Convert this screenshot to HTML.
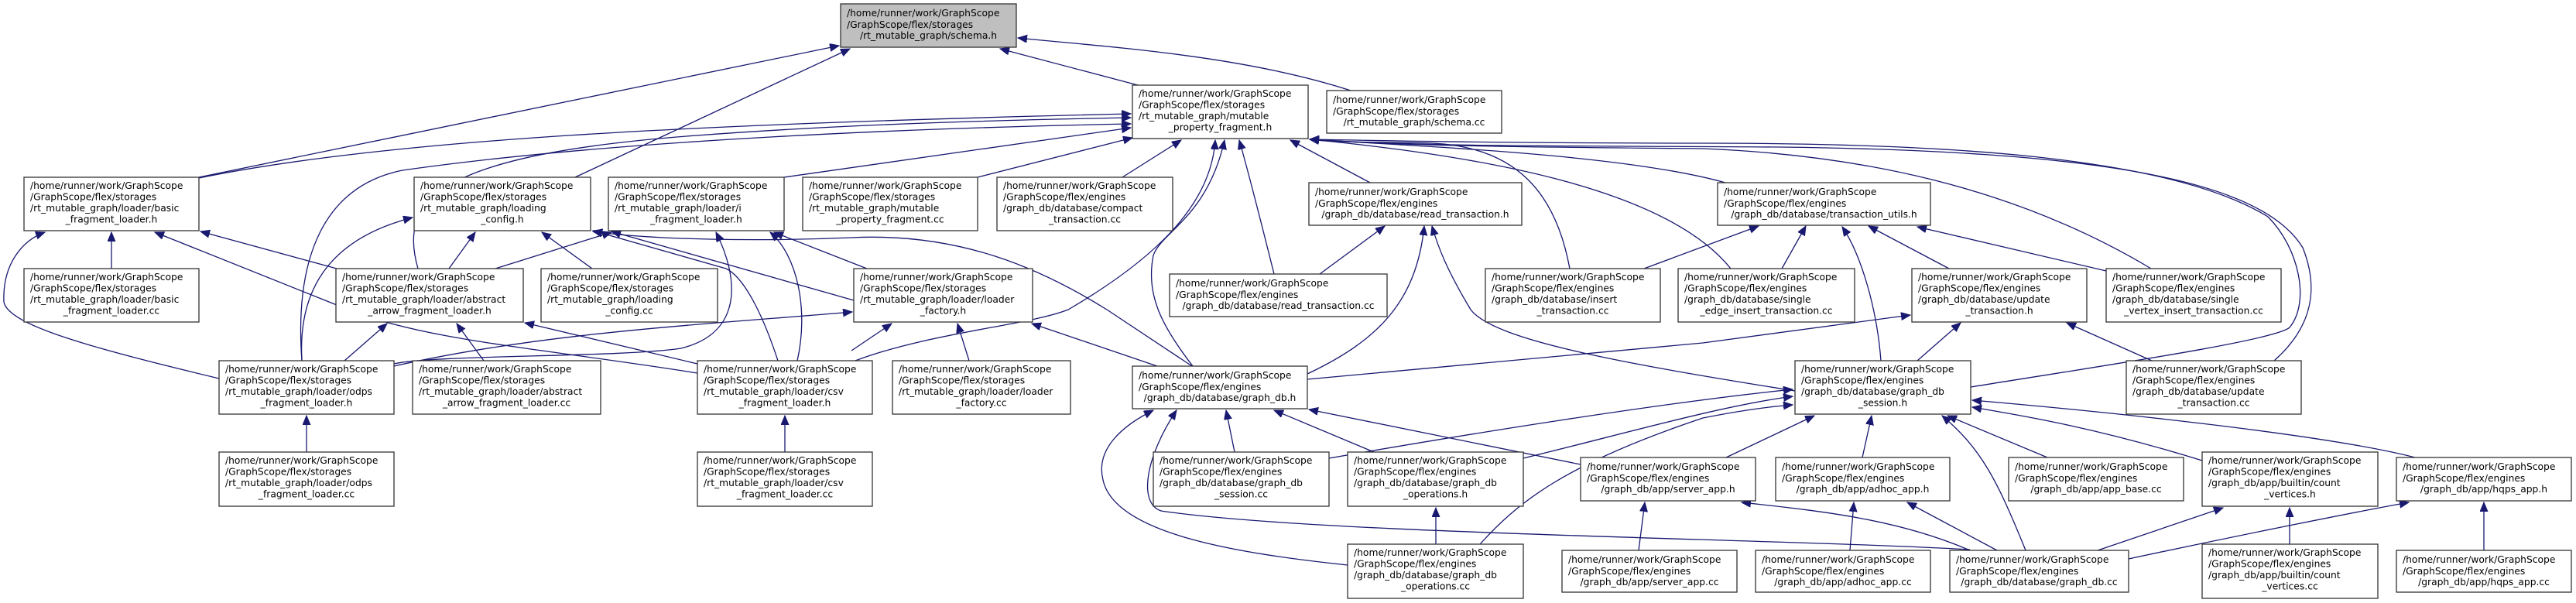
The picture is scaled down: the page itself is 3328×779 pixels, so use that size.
<!DOCTYPE html>
<html><head><meta charset="utf-8"><style>
html,body{margin:0;padding:0;background:#fff;}
svg{display:block;}
text{font-family:"DejaVu Sans","Liberation Sans",sans-serif;font-size:12.3px;fill:#000;}
.b{fill:#fff;stroke:#333;stroke-width:1.3;}
.e{fill:none;stroke:#191970;stroke-width:1.3;}
</style></head><body>
<svg width="3328" height="779" viewBox="0 0 3328 779" xmlns="http://www.w3.org/2000/svg">
<defs><marker id="a" markerUnits="userSpaceOnUse" markerWidth="14" markerHeight="12" refX="12" refY="5" orient="auto"><path d="M0,0 L12,5 L0,10 z" fill="#191970" stroke="#191970"/></marker></defs>
<g class="edges">
<!-- schema.h -->
<path class="e" marker-end="url(#a)" d="M257,229 L1084,59"/>
<path class="e" marker-end="url(#a)" d="M743,229 L1098,63"/>
<path class="e" marker-end="url(#a)" d="M1470,110 L1292,63"/>
<path class="e" marker-end="url(#a)" d="M1745,117 C1600,70 1420,60 1315,49"/>
<!-- MPF -->
<path class="e" marker-end="url(#a)" d="M257,230 C500,180 900,160 1461,147"/>
<path class="e" marker-end="url(#a)" d="M540,347 C515,260 560,200 900,175 C1100,160 1300,155 1461,152"/>
<path class="e" marker-end="url(#a)" d="M390,466 C380,330 420,240 520,220 C800,180 1200,165 1461,160"/>
<path class="e" marker-end="url(#a)" d="M1013,229 L1461,165"/>
<path class="e" marker-end="url(#a)" d="M1263,229 L1463,178"/>
<path class="e" marker-end="url(#a)" d="M1450,229 L1526,181"/>
<path class="e" marker-end="url(#a)" d="M1105,466 C1200,430 1330,420 1380,400 C1500,330 1565,260 1570,181"/>
<path class="e" marker-end="url(#a)" d="M1541,473 C1500,420 1480,380 1490,330 C1500,300 1560,280 1582,181"/>
<path class="e" marker-end="url(#a)" d="M1646,354 C1630,290 1615,230 1601,181"/>
<path class="e" marker-end="url(#a)" d="M1770,236 L1667,181"/>
<path class="e" marker-end="url(#a)" d="M2028,347 C2010,250 1960,190 1850,185 C1780,183 1730,185 1692,180"/>
<path class="e" marker-end="url(#a)" d="M2236,347 C2150,240 1900,200 1692,180"/>
<path class="e" marker-end="url(#a)" d="M2229,236 C2100,200 1850,190 1692,180"/>
<path class="e" marker-end="url(#a)" d="M2779,347 C2600,240 2400,200 2200,192 C1950,190 1800,188 1692,180"/>
<path class="e" marker-end="url(#a)" d="M2938,466 C2990,420 2995,370 2975,320 C2920,230 2700,195 2300,190 C2000,188 1850,190 1692,180"/>
<path class="e" marker-end="url(#a)" d="M2546,500 C2700,475 2940,440 2958,423 C2985,390 2970,320 2930,280 C2800,200 2500,185 2200,185 C1950,185 1800,182 1692,180"/>
<!-- TU -->
<path class="e" marker-end="url(#a)" d="M2124,347 L2272,292"/>
<path class="e" marker-end="url(#a)" d="M2302,347 L2333,292"/>
<path class="e" marker-end="url(#a)" d="M2430,466 C2425,400 2405,330 2380,293"/>
<path class="e" marker-end="url(#a)" d="M2518,347 L2414,292"/>
<path class="e" marker-end="url(#a)" d="M2721,350 L2477,293"/>
<!-- UTH -->
<path class="e" marker-end="url(#a)" d="M2477,466 L2533,417"/>
<path class="e" marker-end="url(#a)" d="M2780,466 L2670,417"/>
<path class="e" marker-end="url(#a)" d="M1689,490 L2200,443 L2468,407"/>
<!-- RTH -->
<path class="e" marker-end="url(#a)" d="M1705,354 L1789,292"/>
<path class="e" marker-end="url(#a)" d="M1689,483 C1780,440 1830,390 1840,292"/>
<path class="e" marker-end="url(#a)" d="M2319,505 C2100,470 1930,440 1900,400 C1870,350 1858,320 1850,292"/>
<!-- GDB -->
<path class="e" marker-end="url(#a)" d="M1595,584 L1584,530"/>
<path class="e" marker-end="url(#a)" d="M1775,584 L1646,530"/>
<path class="e" marker-end="url(#a)" d="M2042,600 L1691,529"/>
<path class="e" marker-end="url(#a)" d="M1741,730 C1600,715 1440,690 1425,620 C1415,580 1450,550 1490,530"/>
<path class="e" marker-end="url(#a)" d="M2545,710 C2300,696 1700,690 1500,660 C1470,650 1480,590 1520,530"/>
<path class="e" marker-end="url(#a)" d="M1495,473 L1333,418"/>
<path class="e" marker-end="url(#a)" d="M1540,473 L1430,400 C1345,347 1240,300 1100,307 C982,312 842,310 766,299"/>
<!-- GSH -->
<path class="e" marker-end="url(#a)" d="M1717,592 C1900,560 2150,520 2316,503"/>
<path class="e" marker-end="url(#a)" d="M1968,592 C2100,560 2220,525 2316,512"/>
<path class="e" marker-end="url(#a)" d="M1912,703 C1960,650 2020,600 2200,540 C2250,530 2290,525 2316,523"/>
<path class="e" marker-end="url(#a)" d="M2230,591 L2344,537"/>
<path class="e" marker-end="url(#a)" d="M2406,591 L2418,537"/>
<path class="e" marker-end="url(#a)" d="M2617,711 C2580,620 2560,580 2509,537"/>
<path class="e" marker-end="url(#a)" d="M2645,591 L2516,537"/>
<path class="e" marker-end="url(#a)" d="M2845,595 C2700,550 2600,535 2548,526"/>
<path class="e" marker-end="url(#a)" d="M3120,591 C3000,560 2700,530 2548,517"/>
<!-- bottom -->
<path class="e" marker-end="url(#a)" d="M2545,711 C2450,670 2350,660 2250,649"/>
<path class="e" marker-end="url(#a)" d="M2580,711 L2464,649"/>
<path class="e" marker-end="url(#a)" d="M2710,711 L2872,656"/>
<path class="e" marker-end="url(#a)" d="M2750,722 C2900,690 3050,660 3112,649"/>
<path class="e" marker-end="url(#a)" d="M1855,703 L1855,656"/>
<path class="e" marker-end="url(#a)" d="M2117,711 L2125,649"/>
<path class="e" marker-end="url(#a)" d="M2390,711 L2395,649"/>
<path class="e" marker-end="url(#a)" d="M2958,703 L2958,656"/>
<path class="e" marker-end="url(#a)" d="M3209,711 L3209,649"/>
<path class="e" marker-end="url(#a)" d="M396,584 L396,537"/>
<path class="e" marker-end="url(#a)" d="M1014,584 L1014,537"/>
<!-- left -->
<path class="e" marker-end="url(#a)" d="M144,347 L144,300"/>
<path class="e" marker-end="url(#a)" d="M283,489 C120,450 10,420 5,390 C3,340 30,310 58,300"/>
<path class="e" marker-end="url(#a)" d="M435,347 L259,299"/>
<path class="e" marker-end="url(#a)" d="M901,482 C700,450 550,440 450,400 L200,300"/>
<path class="e" marker-end="url(#a)" d="M580,347 L614,300"/>
<path class="e" marker-end="url(#a)" d="M765,347 L700,300"/>
<path class="e" marker-end="url(#a)" d="M390,466 C385,380 420,310 533,281"/>
<path class="e" marker-end="url(#a)" d="M1005,466 C990,420 965,360 938,347 L766,298"/>
<path class="e" marker-end="url(#a)" d="M1103,388 L790,299"/>
<path class="e" marker-end="url(#a)" d="M640,347 L790,300"/>
<path class="e" marker-end="url(#a)" d="M1120,347 L1000,300"/>
<path class="e" marker-end="url(#a)" d="M1030,466 C1045,400 1030,330 995,300"/>
<path class="e" marker-end="url(#a)" d="M509,470 C560,458 800,462 880,450 C960,430 955,360 925,300"/>
<path class="e" marker-end="url(#a)" d="M445,466 L500,418"/>
<path class="e" marker-end="url(#a)" d="M625,466 L590,418"/>
<path class="e" marker-end="url(#a)" d="M901,470 L678,417"/>
<path class="e" marker-end="url(#a)" d="M509,473 C700,430 900,420 1101,403"/>
<path class="e" marker-end="url(#a)" d="M1100,453 L1152,418"/>
<path class="e" marker-end="url(#a)" d="M1252,466 L1237,418"/>
</g>
<g class="nodes">
<!-- schema.h -->
<rect x="1086" y="5" width="227" height="56" fill="#bfbfbf" stroke="#333" stroke-width="1.3"/>
<text x="1094" y="21">/home/runner/work/GraphScope</text><text x="1094" y="36">/GraphScope/flex/storages</text><text x="1199.5" y="50" text-anchor="middle">/rt_mutable_graph/schema.h</text>

<rect class="b" x="1463" y="110" width="227" height="69"/>
<text x="1471" y="125">/home/runner/work/GraphScope</text><text x="1471" y="139.5">/GraphScope/flex/storages</text><text x="1471" y="154">/rt_mutable_graph/mutable</text><text x="1576.5" y="168.5" text-anchor="middle">_property_fragment.h</text>

<rect class="b" x="1714" y="117" width="226" height="55"/>
<text x="1722" y="133">/home/runner/work/GraphScope</text><text x="1722" y="148">/GraphScope/flex/storages</text><text x="1827" y="162" text-anchor="middle">/rt_mutable_graph/schema.cc</text>

<rect class="b" x="31" y="229" width="226" height="69"/>
<text x="39" y="244">/home/runner/work/GraphScope</text><text x="39" y="258.5">/GraphScope/flex/storages</text><text x="39" y="273">/rt_mutable_graph/loader/basic</text><text x="144" y="287.5" text-anchor="middle">_fragment_loader.h</text>

<rect class="b" x="535" y="229" width="228" height="69"/>
<text x="543" y="244">/home/runner/work/GraphScope</text><text x="543" y="258.5">/GraphScope/flex/storages</text><text x="543" y="273">/rt_mutable_graph/loading</text><text x="649" y="287.5" text-anchor="middle">_config.h</text>

<rect class="b" x="786" y="229" width="227" height="69"/>
<text x="794" y="244">/home/runner/work/GraphScope</text><text x="794" y="258.5">/GraphScope/flex/storages</text><text x="794" y="273">/rt_mutable_graph/loader/i</text><text x="899.5" y="287.5" text-anchor="middle">_fragment_loader.h</text>

<rect class="b" x="1037" y="229" width="226" height="69"/>
<text x="1045" y="244">/home/runner/work/GraphScope</text><text x="1045" y="258.5">/GraphScope/flex/storages</text><text x="1045" y="273">/rt_mutable_graph/mutable</text><text x="1150" y="287.5" text-anchor="middle">_property_fragment.cc</text>

<rect class="b" x="1288" y="229" width="227" height="69"/>
<text x="1296" y="244">/home/runner/work/GraphScope</text><text x="1296" y="258.5">/GraphScope/flex/engines</text><text x="1296" y="273">/graph_db/database/compact</text><text x="1401.5" y="287.5" text-anchor="middle">_transaction.cc</text>

<rect class="b" x="1691" y="236" width="275" height="55"/>
<text x="1699" y="252">/home/runner/work/GraphScope</text><text x="1699" y="267">/GraphScope/flex/engines</text><text x="1828.5" y="281" text-anchor="middle">/graph_db/database/read_transaction.h</text>

<rect class="b" x="2219" y="236" width="275" height="55"/>
<text x="2227" y="252">/home/runner/work/GraphScope</text><text x="2227" y="267">/GraphScope/flex/engines</text><text x="2356.5" y="281" text-anchor="middle">/graph_db/database/transaction_utils.h</text>

<rect class="b" x="31" y="347" width="226" height="69"/>
<text x="39" y="362">/home/runner/work/GraphScope</text><text x="39" y="376.5">/GraphScope/flex/storages</text><text x="39" y="391">/rt_mutable_graph/loader/basic</text><text x="144" y="405.5" text-anchor="middle">_fragment_loader.cc</text>

<rect class="b" x="434" y="347" width="242" height="69"/>
<text x="442" y="362">/home/runner/work/GraphScope</text><text x="442" y="376.5">/GraphScope/flex/storages</text><text x="442" y="391">/rt_mutable_graph/loader/abstract</text><text x="555" y="405.5" text-anchor="middle">_arrow_fragment_loader.h</text>

<rect class="b" x="699" y="347" width="228" height="69"/>
<text x="707" y="362">/home/runner/work/GraphScope</text><text x="707" y="376.5">/GraphScope/flex/storages</text><text x="707" y="391">/rt_mutable_graph/loading</text><text x="813" y="405.5" text-anchor="middle">_config.cc</text>

<rect class="b" x="1103" y="347" width="231" height="69"/>
<text x="1111" y="362">/home/runner/work/GraphScope</text><text x="1111" y="376.5">/GraphScope/flex/storages</text><text x="1111" y="391">/rt_mutable_graph/loader/loader</text><text x="1218.5" y="405.5" text-anchor="middle">_factory.h</text>

<rect class="b" x="1511" y="354" width="281" height="55"/>
<text x="1519" y="370">/home/runner/work/GraphScope</text><text x="1519" y="385">/GraphScope/flex/engines</text><text x="1651.5" y="399" text-anchor="middle">/graph_db/database/read_transaction.cc</text>

<rect class="b" x="1919" y="347" width="226" height="69"/>
<text x="1927" y="362">/home/runner/work/GraphScope</text><text x="1927" y="376.5">/GraphScope/flex/engines</text><text x="1927" y="391">/graph_db/database/insert</text><text x="2032" y="405.5" text-anchor="middle">_transaction.cc</text>

<rect class="b" x="2168" y="347" width="228" height="69"/>
<text x="2176" y="362">/home/runner/work/GraphScope</text><text x="2176" y="376.5">/GraphScope/flex/engines</text><text x="2176" y="391">/graph_db/database/single</text><text x="2282" y="405.5" text-anchor="middle">_edge_insert_transaction.cc</text>

<rect class="b" x="2470" y="347" width="226" height="69"/>
<text x="2478" y="362">/home/runner/work/GraphScope</text><text x="2478" y="376.5">/GraphScope/flex/engines</text><text x="2478" y="391">/graph_db/database/update</text><text x="2583" y="405.5" text-anchor="middle">_transaction.h</text>

<rect class="b" x="2721" y="347" width="226" height="69"/>
<text x="2729" y="362">/home/runner/work/GraphScope</text><text x="2729" y="376.5">/GraphScope/flex/engines</text><text x="2729" y="391">/graph_db/database/single</text><text x="2834" y="405.5" text-anchor="middle">_vertex_insert_transaction.cc</text>

<rect class="b" x="283" y="466" width="226" height="69"/>
<text x="291" y="481">/home/runner/work/GraphScope</text><text x="291" y="495.5">/GraphScope/flex/storages</text><text x="291" y="510">/rt_mutable_graph/loader/odps</text><text x="396" y="524.5" text-anchor="middle">_fragment_loader.h</text>

<rect class="b" x="533" y="466" width="243" height="69"/>
<text x="541" y="481">/home/runner/work/GraphScope</text><text x="541" y="495.5">/GraphScope/flex/storages</text><text x="541" y="510">/rt_mutable_graph/loader/abstract</text><text x="654.5" y="524.5" text-anchor="middle">_arrow_fragment_loader.cc</text>

<rect class="b" x="901" y="466" width="226" height="69"/>
<text x="909" y="481">/home/runner/work/GraphScope</text><text x="909" y="495.5">/GraphScope/flex/storages</text><text x="909" y="510">/rt_mutable_graph/loader/csv</text><text x="1014" y="524.5" text-anchor="middle">_fragment_loader.h</text>

<rect class="b" x="1153" y="466" width="230" height="69"/>
<text x="1161" y="481">/home/runner/work/GraphScope</text><text x="1161" y="495.5">/GraphScope/flex/storages</text><text x="1161" y="510">/rt_mutable_graph/loader/loader</text><text x="1268" y="524.5" text-anchor="middle">_factory.cc</text>

<rect class="b" x="1463" y="473" width="226" height="55"/>
<text x="1471" y="489">/home/runner/work/GraphScope</text><text x="1471" y="504">/GraphScope/flex/engines</text><text x="1576" y="518" text-anchor="middle">/graph_db/database/graph_db.h</text>

<rect class="b" x="2319" y="466" width="227" height="69"/>
<text x="2327" y="481">/home/runner/work/GraphScope</text><text x="2327" y="495.5">/GraphScope/flex/engines</text><text x="2327" y="510">/graph_db/database/graph_db</text><text x="2432.5" y="524.5" text-anchor="middle">_session.h</text>

<rect class="b" x="2747" y="466" width="226" height="69"/>
<text x="2755" y="481">/home/runner/work/GraphScope</text><text x="2755" y="495.5">/GraphScope/flex/engines</text><text x="2755" y="510">/graph_db/database/update</text><text x="2860" y="524.5" text-anchor="middle">_transaction.cc</text>

<rect class="b" x="283" y="584" width="226" height="70"/>
<text x="291" y="599">/home/runner/work/GraphScope</text><text x="291" y="613.5">/GraphScope/flex/storages</text><text x="291" y="628">/rt_mutable_graph/loader/odps</text><text x="396" y="642.5" text-anchor="middle">_fragment_loader.cc</text>

<rect class="b" x="901" y="584" width="226" height="70"/>
<text x="909" y="599">/home/runner/work/GraphScope</text><text x="909" y="613.5">/GraphScope/flex/storages</text><text x="909" y="628">/rt_mutable_graph/loader/csv</text><text x="1014" y="642.5" text-anchor="middle">_fragment_loader.cc</text>

<rect class="b" x="1490" y="584" width="227" height="70"/>
<text x="1498" y="599">/home/runner/work/GraphScope</text><text x="1498" y="613.5">/GraphScope/flex/engines</text><text x="1498" y="628">/graph_db/database/graph_db</text><text x="1603.5" y="642.5" text-anchor="middle">_session.cc</text>

<rect class="b" x="1741" y="584" width="227" height="70"/>
<text x="1749" y="599">/home/runner/work/GraphScope</text><text x="1749" y="613.5">/GraphScope/flex/engines</text><text x="1749" y="628">/graph_db/database/graph_db</text><text x="1854.5" y="642.5" text-anchor="middle">_operations.h</text>

<rect class="b" x="2042" y="591" width="226" height="56"/>
<text x="2050" y="607">/home/runner/work/GraphScope</text><text x="2050" y="622">/GraphScope/flex/engines</text><text x="2155" y="636" text-anchor="middle">/graph_db/app/server_app.h</text>

<rect class="b" x="2294" y="591" width="225" height="56"/>
<text x="2302" y="607">/home/runner/work/GraphScope</text><text x="2302" y="622">/GraphScope/flex/engines</text><text x="2406.5" y="636" text-anchor="middle">/graph_db/app/adhoc_app.h</text>

<rect class="b" x="2595" y="591" width="226" height="56"/>
<text x="2603" y="607">/home/runner/work/GraphScope</text><text x="2603" y="622">/GraphScope/flex/engines</text><text x="2708" y="636" text-anchor="middle">/graph_db/app/app_base.cc</text>

<rect class="b" x="2845" y="584" width="227" height="70"/>
<text x="2853" y="599">/home/runner/work/GraphScope</text><text x="2853" y="613.5">/GraphScope/flex/engines</text><text x="2853" y="628">/graph_db/app/builtin/count</text><text x="2958.5" y="642.5" text-anchor="middle">_vertices.h</text>

<rect class="b" x="3096" y="591" width="226" height="56"/>
<text x="3104" y="607">/home/runner/work/GraphScope</text><text x="3104" y="622">/GraphScope/flex/engines</text><text x="3209" y="636" text-anchor="middle">/graph_db/app/hqps_app.h</text>

<rect class="b" x="1741" y="703" width="227" height="70"/>
<text x="1749" y="718">/home/runner/work/GraphScope</text><text x="1749" y="732.5">/GraphScope/flex/engines</text><text x="1749" y="747">/graph_db/database/graph_db</text><text x="1854.5" y="761.5" text-anchor="middle">_operations.cc</text>

<rect class="b" x="2018" y="711" width="226" height="54"/>
<text x="2026" y="727">/home/runner/work/GraphScope</text><text x="2026" y="742">/GraphScope/flex/engines</text><text x="2131" y="756" text-anchor="middle">/graph_db/app/server_app.cc</text>

<rect class="b" x="2268" y="711" width="226" height="54"/>
<text x="2276" y="727">/home/runner/work/GraphScope</text><text x="2276" y="742">/GraphScope/flex/engines</text><text x="2381" y="756" text-anchor="middle">/graph_db/app/adhoc_app.cc</text>

<rect class="b" x="2519" y="711" width="231" height="54"/>
<text x="2527" y="727">/home/runner/work/GraphScope</text><text x="2527" y="742">/GraphScope/flex/engines</text><text x="2634.5" y="756" text-anchor="middle">/graph_db/database/graph_db.cc</text>

<rect class="b" x="2845" y="703" width="227" height="70"/>
<text x="2853" y="718">/home/runner/work/GraphScope</text><text x="2853" y="732.5">/GraphScope/flex/engines</text><text x="2853" y="747">/graph_db/app/builtin/count</text><text x="2958.5" y="761.5" text-anchor="middle">_vertices.cc</text>

<rect class="b" x="3096" y="711" width="226" height="54"/>
<text x="3104" y="727">/home/runner/work/GraphScope</text><text x="3104" y="742">/GraphScope/flex/engines</text><text x="3209" y="756" text-anchor="middle">/graph_db/app/hqps_app.cc</text>
</g>
</svg>
</body></html>
